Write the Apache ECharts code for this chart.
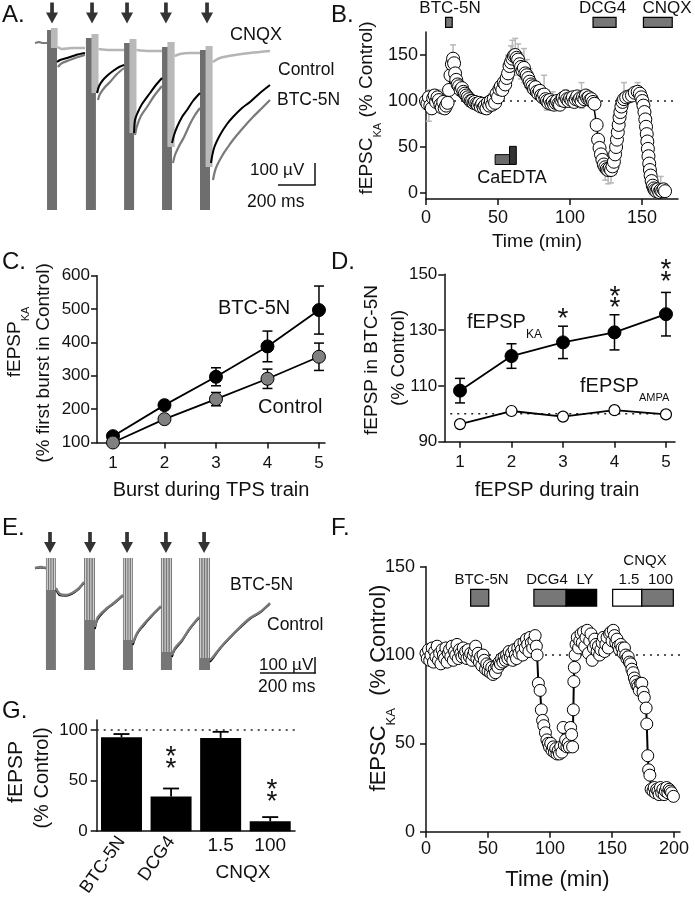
<!DOCTYPE html>
<html><head><meta charset="utf-8">
<script src="https://cdn.jsdelivr.net/npm/echarts@6/dist/echarts.min.js"></script>
<style>html,body{margin:0;padding:0;background:#fff}#c{width:695px;height:899px}</style>
</head><body><div id="c"></div>
<script>
const FONT = "'Liberation Sans', Arial, Helvetica, sans-serif";

// ---------- Panel A: traces (time in ms, potential in µV) ----------
const aStimT = [92, 308, 497, 707, 929];
const aBtcBurst = [[65,119,60,-840],[275,329,20,-840],[481,535,-5,-840],[686,740,-25,-840],[891,945,-40,-840]];
const aCnqxBurst = [[86,122,70,-30],[305,343,40,-255],[510,548,15,-455],[715,754,0,-525],[921,959,-20,-625]];
const aBaseline = [[0,-5],[20,0],[40,-5],[65,-5]];
const aCnqx = [
 [[122,-25],[146,-35],[200,-30],[270,-30]],
 [[343,-35],[405,-40],[481,-40]],
 [[548,-40],[621,-45],[686,-45]],
 [[754,-70],[783,-60],[837,-55],[891,-55]],
 [[959,-100],[999,-80],[1080,-65],[1161,-55],[1269,-45]]];
const aBtc = [
 [[124,-125],[146,-105],[189,-90],[232,-75],[270,-65]],
 [[340,-290],[351,-260],[378,-225],[405,-200],[443,-160],[481,-130]],
 [[540,-465],[551,-420],[572,-370],[605,-325],[643,-270],[686,-220]],
 [[745,-605],[756,-565],[778,-520],[805,-475],[837,-410],[864,-365],[891,-330]],
 [[961,-690],[977,-630],[1010,-570],[1042,-525],[1069,-490],[1123,-430],[1177,-375],[1226,-330],[1269,-290]]];
const aControl = [
 [[119,-100],[135,-90],[173,-80],[221,-65],[270,-55]],
 [[335,-255],[346,-220],[367,-190],[394,-165],[421,-145],[454,-125],[481,-115]],
 [[535,-455],[540,-390],[556,-350],[578,-310],[621,-255],[653,-215],[686,-180]],
 [[740,-505],[751,-465],[767,-425],[794,-375],[821,-340],[853,-295],[891,-255]],
 [[950,-605],[967,-530],[999,-465],[1037,-410],[1069,-375],[1118,-330],[1161,-300],[1215,-255],[1269,-215]]];

// ---------- Panel B ----------
const bPoints = [[0,100],[1,97],[2,104],[3,95],[4,92],[5,103],[6,106],[7,99],[8,104],[9,101],[10,96],[11,93],[12,99],[13,92],[14,95],[15,98],[16,112],[17,128],[18,140],[18.8,146],[19.5,141],[20.2,130],[21,123],[22,118],[23,116],[24,112],[25,114],[26,110],[27,108],[28,106],[29,104],[30,102],[31,100],[32,100],[33,98],[34,99],[35,97],[36,96],[37,98],[38,94],[39,97],[40,93],[41,95],[42,92],[43,98],[44,95],[45,100],[46,96],[47,102],[48,98],[49,108],[50,104],[51,113],[52,116],[53,112],[54,120],[55,118],[56,125],[57,130],[58,138],[59,142],[60,146],[61,149],[62,150],[63,147],[64,145],[65,140],[66,137],[67,133],[68,136],[69,130],[70,128],[71,125],[72,121],[73,118],[74,116],[75,113],[76,115],[77,110],[78,108],[79,111],[80,106],[81,104],[82,107],[83,102],[84,100],[85,98],[86,101],[87,97],[88,99],[89,96],[90,98],[91,100],[92,97],[93,96],[94,101],[95,103],[96,100],[97,105],[98,102],[99,100],[100,103],[101,101],[102,104],[103,99],[104,102],[105,105],[106,101],[107,103],[108,100],[109,104],[110,102],[111,106],[112,103],[113,104],[114,101],[115,102],[116,99],[117,97],[118.5,74],[119.5,58],[120.5,49],[121.5,42],[122.5,36],[123.5,31],[124.5,28],[125.5,26],[126.5,25],[127.5,27],[128.5,25],[129.5,29],[130.5,34],[131.3,42],[132,50],[132.6,58],[133.2,66],[133.8,74],[134.4,82],[135,88],[135.7,94],[136.5,99],[137.5,102],[139,104],[141,105],[143,106],[145,109],[147,110],[148.5,108],[149.5,104],[150.3,100],[151,95],[151.7,88],[152.3,80],[152.8,72],[153.3,64],[153.7,56],[154.1,48],[154.5,40],[155,32],[155.5,25],[156,19],[156.7,13],[157.5,8],[158.3,5],[159,3],[160,2],[161,4],[162,1],[163,3],[164,2],[165,4],[166,2]];
const bErr = [[2,78,112],[4,86,104],[7,92,112],[9,94,112],[18.8,132,161],[20.2,120,140],[22,110,128],[45,92,108],[57,115,150],[59,125,160],[60,128,166],[62,132,168],[64,128,162],[66,124,152],[68,120,157],[70,115,145],[72,110,135],[82,96,128],[84,90,112],[88,90,110],[97,95,112],[108,92,120],[113,96,110],[124.5,14,42],[126.5,10,40],[128.5,11,38],[130.5,20,45],[137.5,94,120],[147,100,120],[160,0,8],[163,0,18],[165,0,10]];
const bDrugStart = [13.6, 116, 151];
const bDrugEnd = [18.2, 132, 171];
const bCaStart = [48, 58];
const bCaEnd = [58, 62.7];
const bCaTop = [41.7, 50.7];
const bCaBottom = 31;

// ---------- Panel C ----------
const cBurst = [1, 2, 3, 4, 5];
const cBtc = [119, 212, 297, 388, 497];
const cBtcErr = [5, 8, 27, 46, 72];
const cCtrl = [100, 170, 230, 291, 357];
const cCtrlErr = [3, 6, 20, 29, 41];

// ---------- Panel D ----------
const dIdx = [1, 2, 3, 4, 5];
const dKA = [108.3, 120.7, 125.6, 129.2, 135.7];
const dKAErr = [4.4, 4.4, 5.8, 6.3, 7.8];
const dAMPA = [96.3, 101, 99, 101.3, 99.8];

// ---------- Panel E ----------
const eStimT = [81, 297, 497, 707, 913];
const eBurst = [[59,113,50,-510,-110],[265,324,50,-510,-260],[475,529,50,-510,-360],[680,740,50,-510,-420],[886,945,50,-510,-450]];
const eBtc = [
 [[0,0],[30,5],[59,0]],
 [[113,-100],[135,-130],[167,-135],[200,-125],[232,-105],[265,-70]],
 [[324,-295],[340,-245],[389,-200],[432,-170],[475,-135]],
 [[529,-375],[551,-325],[583,-285],[632,-235],[680,-190]],
 [[740,-435],[756,-400],[794,-360],[837,-300],[886,-245]],
 [[945,-460],[961,-445],[999,-400],[1053,-345],[1107,-295],[1161,-250],[1215,-220],[1269,-175]]];
const eControl = [
 [[0,-3],[30,2],[59,-3]],
 [[113,-110],[135,-138],[167,-140],[200,-130],[232,-110],[265,-75]],
 [[324,-305],[340,-255],[389,-205],[432,-175],[475,-140]],
 [[529,-385],[551,-332],[583,-292],[632,-240],[680,-195]],
 [[740,-445],[756,-408],[794,-366],[837,-305],[886,-250]],
 [[945,-470],[961,-452],[999,-405],[1053,-350],[1107,-300],[1161,-255],[1215,-224],[1269,-180]]];

// ---------- Panel F ----------
const fPoints = [[0,101],[1,98],[2,103],[3,97],[4,100],[5,104],[6,96],[7,102],[8,99],[9,105],[10,97],[11,101],[12,95],[13,103],[14,100],[15,98],[16,104],[17,96],[18,101],[19,103],[20,99],[21,105],[22,97],[23,102],[24,100],[25,106],[26,98],[27,103],[28,101],[29,99],[30,104],[31,100],[32,102],[33,98],[34,103],[35,99],[36,101],[37,97],[38,100],[39,102],[40,105],[41,98],[42,101],[43,96],[44,99],[45,94],[46,100],[47,97],[48,92],[49,95],[50,91],[51,94],[52,90],[53,93],[54,89],[55,92],[56,90],[57,94],[58,93],[59,96],[60,95],[61,98],[62,96],[63,99],[64,97],[65,100],[66,98],[67,102],[68,99],[69,101],[70,97],[71,103],[72,100],[73,98],[74,104],[75,101],[76,106],[77,103],[78,100],[79,107],[80,104],[81,109],[82,106],[83,102],[84,110],[85,107],[86,104],[87,108],[88,111],[89,105],[89.6,100],[90.6,84],[92,80],[93,69],[94,63],[95,60],[96.3,56],[97.5,52],[98.6,50],[99.6,48],[100.6,50],[101.6,46],[102.6,48],[103.6,45],[104.6,47],[105.6,44],[106.6,46],[107.6,44],[108.6,48],[109.6,45],[110.6,59],[111.6,49],[112.6,52],[113.6,48],[114.6,50],[115.6,48],[116.6,59],[117.4,55],[118.2,48],[118.8,69],[119.2,85],[119.6,93],[120.2,100],[121,106],[122,110],[123,104],[124,108],[125,112],[126,107],[127,113],[128,105],[129,110],[130,114],[131,101],[132,108],[133,112],[134,97],[135,104],[136,109],[137,106],[138,102],[139,105],[140,100],[141,103],[142,107],[143,110],[144,102],[145,106],[146,110],[147,104],[148,112],[149,113],[150,108],[151,114],[152,111],[153,107],[154,109],[155,105],[156,103],[157,106],[158,104],[159,101],[160,104],[161,100],[162,98],[163,99],[164,96],[165,95],[166,92],[167,90],[168,87],[169,85],[170,83],[171,82],[172,80],[173,84],[174,84],[175,79],[176,76],[177.5,70],[178,61],[178.8,43],[179.5,35],[180.5,32],[181.5,24],[183,23],[184,25],[185,22],[186,24],[187,23],[188,21],[189,25],[190,22],[191,24],[192,21],[193,23],[194,25],[195,22],[196,24],[197,23],[198,22],[199.5,20]];
const fDrugStart = [36, 87, 113, 150.5, 174];
const fDrugEnd = [50.6, 113, 137.6, 174, 199.4];
const fDrugFill = ['#777', '#777', '#000', '#fff', '#777'];

// ---------- Panel G ----------
const gCats = ['BTC-5N', 'DCG4', '1.5', '100'];
const gVals = [92.9, 34.2, 92.3, 9.7];
const gErr = [3.2, 8, 6, 4.2];

// ================= helpers =================
const AX = {color:'#111', width:1.5};
function hiddenAxis(gi, min, max){ return {type:'value', gridIndex:gi, min, max, show:false}; }
function valAxis(gi, min, max, ticks, fs, margin){
  return {type:'value', gridIndex:gi, min, max,
    axisLine:{show:true, onZero:false, lineStyle:AX},
    axisTick:{show:true, length:6, lineStyle:AX, customValues:ticks},
    axisLabel:{show:true, customValues:ticks, fontSize:fs, fontFamily:FONT, color:'#111', margin:margin},
    splitLine:{show:false}};
}
function seg(xi, yi, data, color, width, smooth){
  return {type:'line', xAxisIndex:xi, yAxisIndex:yi, data, symbol:'none', showSymbol:false, smooth: smooth||0,
    lineStyle:{color, width}, silent:true, animation:false, clip:false};
}
function rects(xi, yi, data, fill){
  return {type:'custom', xAxisIndex:xi, yAxisIndex:yi, data, silent:true, animation:false, clip:false,
    renderItem:(p, api)=>{
      const a = api.coord([api.value(0), api.value(2)]), b = api.coord([api.value(1), api.value(3)]);
      return {type:'rect', shape:{x:a[0], y:a[1], width:b[0]-a[0], height:b[1]-a[1]}, style:{fill}};
    }};
}
function errSeries(xi, yi, data, color, cap, lw, topOnly){
  return {type:'custom', xAxisIndex:xi, yAxisIndex:yi, data, silent:true, animation:false, clip:false,
    encode:{x:0, y:[1,2]},
    renderItem:(p, api)=>{
      const x = api.value(0), a = api.coord([x, api.value(1)]), b = api.coord([x, api.value(2)]);
      const st = {stroke:color, lineWidth:lw};
      const ch = [{type:'line', shape:{x1:a[0], y1:a[1], x2:b[0], y2:b[1]}, style:st},
                  {type:'line', shape:{x1:b[0]-cap/2, y1:b[1], x2:b[0]+cap/2, y2:b[1]}, style:st}];
      if(!topOnly) ch.push({type:'line', shape:{x1:a[0]-cap/2, y1:a[1], x2:a[0]+cap/2, y2:a[1]}, style:st});
      return {type:'group', children:ch};
    }};
}
function refLine(xi, yi, x0, x1){
  return {type:'line', xAxisIndex:xi, yAxisIndex:yi, data:[[x0,100],[x1,100]], symbol:'none', silent:true, animation:false,
    lineStyle:{color:'#222', width:1.5, type:[2,5]}};
}
const ARROW = 'path://M3.8,0 L7.2,0 L7.2,10 L11,10 L5.5,21 L0,10 L3.8,10 Z';
function arrows(xi, yi, ts, v){
  return {type:'scatter', xAxisIndex:xi, yAxisIndex:yi, data: ts.map(t=>[t, v]), symbol:ARROW, symbolSize:[12,21],
    itemStyle:{color:'#000'}, silent:true, animation:false, clip:false};
}
function drugBars(xi, yi, starts, ends, fills, vTop, vBot){
  return {type:'custom', xAxisIndex:xi, yAxisIndex:yi, data: starts.map((s,i)=>[s, ends[i]]), silent:true, animation:false, clip:false,
    renderItem:(p, api)=>{
      const a = api.coord([api.value(0), vTop]), b = api.coord([api.value(1), vBot]);
      return {type:'rect', shape:{x:a[0], y:a[1], width:b[0]-a[0], height:b[1]-a[1]},
        style:{fill:fills[p.dataIndex], stroke:'#000', lineWidth:1.2}};
    }};
}
function subRich(size, sub){
  return {
    m:{fontSize:size, fontFamily:FONT, fill:'#111', lineHeight:size+2, verticalAlign:'top'},
    s:{fontSize:sub, fontFamily:FONT, fill:'#111', lineHeight:sub, padding:[Math.round(size*0.78),0,0,0], verticalAlign:'top'}
  };
}
function T(x, y, text, size, o){
  o = o || {};
  return {type:'text', x, y, rotation:o.rot||0, silent:true, z:10,
    style:{text, fontSize:size, fontFamily:FONT, fill:'#111', textAlign:o.align||'left', textVerticalAlign:'middle', rich:o.rich}};
}
function L(x1,y1,x2,y2){ return {type:'line', silent:true, z:10, shape:{x1,y1,x2,y2}, style:{stroke:'#111', lineWidth:1.5}}; }
const R90 = Math.PI/2;
const AST = 28, AOFF = 6.4;

// ================= option =================
const grids = [
  {left:35, top:0, width:285, height:215},          // 0 A
  {left:426, top:32, width:252, height:167},        // 1 B
  {left:97, top:275.7, width:228, height:166.8},    // 2 C
  {left:444.3, top:274.3, width:230.7, height:167.4}, // 3 D
  {left:35, top:526, width:285, height:215},        // 4 E
  {left:426, top:566.7, width:254, height:265},     // 5 F
  {left:96.7, top:720, width:198.3, height:114.3}   // 6 G
];

const xAxes = [
  hiddenAxis(0, 0, 1539),
  valAxis(1, 0, 175, [0,50,100,150], 18, 10),
  valAxis(2, 0.69, 5.117, cBurst, 17, 12),
  valAxis(3, 0.695, 5.175, dIdx, 17, 12),
  hiddenAxis(4, 0, 1539),
  valAxis(5, 0, 204.8, [0,50,100,150,200], 18, 8),
  {type:'category', gridIndex:6, data:gCats, position:'bottom',
    axisLine:{show:true, onZero:false, lineStyle:AX}, axisTick:{show:false},
    axisLabel:{interval:0, rotate:55, fontSize:18, fontFamily:FONT, color:'#111', margin:7,
      formatter:v=> (v==='BTC-5N'||v==='DCG4') ? v : ''}},
  {type:'category', gridIndex:6, data:gCats, position:'bottom',
    axisLine:{show:false}, axisTick:{show:false},
    axisLabel:{interval:0, fontSize:19, fontFamily:FONT, color:'#111', margin:5,
      formatter:v=> (v==='1.5'||v==='100') ? v : ''}}
];
const yAxes = [
  hiddenAxis(0, -865, 210),
  valAxis(1, -6.5, 175, [0,50,100,150], 18, 8),
  valAxis(2, 100, 600, [100,200,300,400,500,600], 17, 7),
  valAxis(3, 90, 150, [90,110,130,150], 17, 7),
  hiddenAxis(4, -865, 210),
  valAxis(5, 0, 150, [0,50,100,150], 18, 11),
  valAxis(6, 0, 110, [0,50,100], 17, 9)
];

const series = [];
// ---- A ----
series.push(rects(0, 0, aBtcBurst, '#6e6e6e'));
series.push(rects(0, 0, aCnqxBurst, '#b9b9b9'));
series.push(seg(0, 0, aBaseline, '#7a7a7a', 2.2));
aCnqx.forEach(s=>series.push(seg(0, 0, s, '#b5b5b5', 2.6, 0.3)));
aBtc.forEach(s=>series.push(seg(0, 0, s, '#7a7a7a', 2.2, 0.3)));
aControl.forEach(s=>series.push(seg(0, 0, s, '#000', 2, 0.3)));
series.push(arrows(0, 0, aStimT, 145));

// ---- B ----
series.push(refLine(1, 1, 0, 172));
series.push(errSeries(1, 1, bErr, '#b8b8b8', 6, 1.5));
series.push(drugBars(1, 1, bDrugStart, bDrugEnd, ['#777','#777','#777'], 191, 180));
series.push({type:'custom', xAxisIndex:1, yAxisIndex:1, data: bCaStart.map((s,i)=>[s, bCaEnd[i], bCaTop[i]]), silent:true, animation:false,
  renderItem:(p, api)=>{
    const a = api.coord([api.value(0), api.value(2)]), b = api.coord([api.value(1), bCaBottom]);
    return {type:'rect', shape:{x:a[0], y:a[1], width:b[0]-a[0], height:b[1]-a[1]},
      style:{fill: p.dataIndex===0 ? '#6a6a6a' : '#333', stroke:'#000', lineWidth:1}};
  }});
series.push({type:'line', xAxisIndex:1, yAxisIndex:1, data:bPoints, symbol:'circle', symbolSize:13,
  itemStyle:{color:'#fff', borderColor:'#000', borderWidth:1}, lineStyle:{color:'#000', width:1.5},
  silent:true, animation:false, clip:false});

// ---- C ----
series.push(errSeries(2, 2, cBurst.map((x,i)=>[x, cBtc[i]-cBtcErr[i], cBtc[i]+cBtcErr[i]]), '#000', 10, 1.5));
series.push(errSeries(2, 2, cBurst.map((x,i)=>[x, cCtrl[i]-cCtrlErr[i], cCtrl[i]+cCtrlErr[i]]), '#000', 10, 1.5));
series.push({type:'line', xAxisIndex:2, yAxisIndex:2, data:cBurst.map((x,i)=>[x,cBtc[i]]), symbol:'circle', symbolSize:13,
  itemStyle:{color:'#000', borderColor:'#000', borderWidth:1}, lineStyle:{color:'#000', width:1.8}, silent:true, animation:false, clip:false});
series.push({type:'line', xAxisIndex:2, yAxisIndex:2, data:cBurst.map((x,i)=>[x,cCtrl[i]]), symbol:'circle', symbolSize:13,
  itemStyle:{color:'#808080', borderColor:'#000', borderWidth:1}, lineStyle:{color:'#000', width:1.8}, silent:true, animation:false, clip:false});

// ---- D ----
series.push(refLine(3, 3, 0.81, 5.04));
series.push(errSeries(3, 3, dIdx.map((x,i)=>[x, dKA[i]-dKAErr[i], dKA[i]+dKAErr[i]]), '#000', 10, 1.5));
series.push({type:'line', xAxisIndex:3, yAxisIndex:3, data:dIdx.map((x,i)=>[x,dAMPA[i]]), symbol:'circle', symbolSize:11,
  itemStyle:{color:'#fff', borderColor:'#000', borderWidth:1.2}, lineStyle:{color:'#000', width:1.8}, silent:true, animation:false, clip:false});
series.push({type:'line', xAxisIndex:3, yAxisIndex:3, data:dIdx.map((x,i)=>[x,dKA[i]]), symbol:'circle', symbolSize:13,
  itemStyle:{color:'#000', borderColor:'#000', borderWidth:1}, lineStyle:{color:'#000', width:1.8}, silent:true, animation:false, clip:false});

// ---- E ----
series.push({type:'custom', xAxisIndex:4, yAxisIndex:4, data:eBurst, silent:true, animation:false, clip:false,
  renderItem:(p, api)=>{
    const a = api.coord([api.value(0), api.value(2)]), b = api.coord([api.value(1), api.value(3)]);
    const s = api.coord([api.value(0), api.value(4)]);
    const w = b[0]-a[0];
    const ch = [{type:'rect', shape:{x:a[0], y:a[1], width:w, height:b[1]-a[1]}, style:{fill:'#767676'}}];
    [0.14, 0.38, 0.62, 0.86].forEach(f=>ch.push({type:'line', shape:{x1:a[0]+w*f, y1:a[1], x2:a[0]+w*f, y2:s[1]}, style:{stroke:'#d0d0d0', lineWidth:1.2}}));
    return {type:'group', children:ch};
  }});
eControl.forEach(s=>series.push(seg(4, 4, s, '#000', 1.6, 0.3)));
eBtc.forEach(s=>series.push(seg(4, 4, s, '#7a7a7a', 2.4, 0.3)));
series.push(arrows(4, 4, eStimT, 127.5));

// ---- F ----
series.push(refLine(5, 5, 0, 207));
series.push(drugBars(5, 5, fDrugStart, fDrugEnd, fDrugFill, 137.2, 127.7));
series.push({type:'line', xAxisIndex:5, yAxisIndex:5, data:fPoints, symbol:'circle', symbolSize:12,
  itemStyle:{color:'#fff', borderColor:'#000', borderWidth:1}, lineStyle:{color:'#000', width:2},
  silent:true, animation:false, clip:false});

// ---- G ----
series.push({type:'bar', xAxisIndex:6, yAxisIndex:6, data:gVals, barWidth:41, itemStyle:{color:'#000'}, silent:true, animation:false,
  markLine:{silent:true, symbol:'none', label:{show:false}, lineStyle:{color:'#222', width:1.5, type:[2,5]}, data:[{yAxis:100}], animation:false}});
series.push(errSeries(6, 6, gVals.map((v,i)=>[i, v, v+gErr[i]]), '#000', 16, 1.8, true));

// ---- texts ----
const graphic = [
  T(2, 15, 'A.', 24), T(331, 15, 'B.', 24), T(2, 262, 'C.', 24), T(331, 262, 'D.', 24),
  T(2, 528, 'E.', 24), T(331, 528, 'F.', 24), T(2, 711, 'G.', 24),
  // A
  T(230, 35, 'CNQX', 18), T(278, 70, 'Control', 17.5), T(277, 100, 'BTC-5N', 17.5),
  T(250, 170, '100 µV', 17), T(247, 202, '200 ms', 17.5),
  L(315, 163, 315, 185), L(278, 185, 315.7, 185),
  // B
  T(450, 8, 'BTC-5N', 17, {align:'center'}), T(602.5, 8, 'DCG4', 17, {align:'center'}), T(667, 8, 'CNQX', 17, {align:'center'}),
  T(512, 178, 'CaEDTA', 18, {align:'center'}),
  T(367.5, 108, '{m|fEPSC}{s|KA}{m| (% Control)}', 19, {align:'center', rot:R90, rich:subRich(19, 11)}),
  T(537, 242, 'Time (min)', 19, {align:'center'}),
  // C
  T(16, 342, '{m|fEPSP}{s|KA}', 19, {align:'center', rot:R90, rich:subRich(19, 11)}),
  T(44, 363, '(% first burst in Control)', 19, {align:'center', rot:R90}),
  T(218, 308, 'BTC-5N', 20), T(258, 407, 'Control', 20),
  T(211, 490, 'Burst during TPS train', 20, {align:'center'}),
  // D
  T(371.5, 360, 'fEPSP in BTC-5N', 19, {align:'center', rot:R90}),
  T(399, 358, '(% Control)', 19, {align:'center', rot:R90}),
  T(467, 323.5, '{m|fEPSP}{s|KA}', 20, {rich:subRich(20, 12)}),
  T(580, 387.5, '{m|fEPSP}{s|AMPA}', 20, {rich:subRich(20, 11)}),
  T(557, 490, 'fEPSP during train', 20, {align:'center'}),
  T(563, 313+AOFF, '*', AST, {align:'center'}),
  T(615, 291+AOFF, '*', AST, {align:'center'}), T(615, 302+AOFF, '*', AST, {align:'center'}),
  T(666, 264+AOFF, '*', AST, {align:'center'}), T(666, 276+AOFF, '*', AST, {align:'center'}),
  // E
  T(230, 585, 'BTC-5N', 17.5), T(267, 625, 'Control', 17.5),
  T(259, 665, '100 µV', 17), T(258, 687, '200 ms', 17.5),
  L(315, 657, 315, 673.5), L(260, 673, 315.7, 673),
  // F
  T(481.5, 580, 'BTC-5N', 15, {align:'center'}), T(547, 580, 'DCG4', 15, {align:'center'}), T(585, 580, 'LY', 15, {align:'center'}),
  T(645, 561, 'CNQX', 15, {align:'center'}), T(629, 580, '1.5', 15, {align:'center'}), T(660.5, 580, '100', 15, {align:'center'}),
  T(380, 688, '{m|fEPSC}{s|KA}{m|  (% Control)}', 22, {align:'center', rot:R90, rich:subRich(22, 13)}),
  T(557.5, 880, 'Time (min)', 22, {align:'center'}),
  // G
  T(16, 772, 'fEPSP', 21, {align:'center', rot:R90}),
  T(42, 778, '(% Control)', 20, {align:'center', rot:R90}),
  T(171, 751+AOFF, '*', AST, {align:'center'}), T(171, 763+AOFF, '*', AST, {align:'center'}),
  T(272, 784+AOFF, '*', AST, {align:'center'}), T(272, 796+AOFF, '*', AST, {align:'center'}),
  T(243, 873, 'CNQX', 19, {align:'center'})
];

const chart = echarts.init(document.getElementById('c'), null, {renderer:'canvas', width:695, height:899});
chart.setOption({
  animation:false,
  backgroundColor:'#fff',
  textStyle:{fontFamily:FONT},
  grid: grids,
  xAxis: xAxes,
  yAxis: yAxes,
  series,
  graphic
});
</script></body></html>
